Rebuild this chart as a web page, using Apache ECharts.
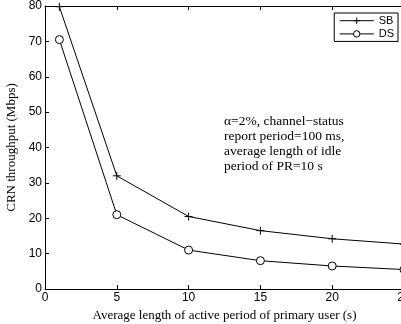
<!DOCTYPE html>
<html><head><meta charset="utf-8">
<script src="https://cdn.jsdelivr.net/npm/echarts@6/dist/echarts.min.js"></script>
<style>html,body{margin:0;padding:0;background:#fff}#c{width:401px;height:324px}</style>
</head><body><div id="c"></div>
<script>
var xValues = [1, 5, 10, 15, 20, 25];
var sbValues = [79.8, 32, 20.5, 16.5, 14.2, 12.7];
var dsValues = [70.5, 21, 11, 8, 6.5, 5.5];
var seriesNames = ['SB', 'DS'];
var annotation = ['\u03b1=2%, channel\u2212status', 'report period=100 ms,', 'average length of idle', 'period of PR=10 s'];

var chart = echarts.init(document.getElementById('c'), null, {renderer: 'canvas'});
var plus = 'path://M0,5 L10,5 M5,0 L5,10';
var circ = 'path://M10,5 A5,5 0 1 1 0,5 A5,5 0 1 1 10,5 Z';
var lab = {color: '#000', fontFamily: 'Liberation Sans, Arial, sans-serif', fontSize: 12};
var tick = {show: true, inside: true, length: 4, lineStyle: {color: '#000', width: 1}};
var line = {show: true, onZero: false, lineStyle: {color: '#000', width: 1}};
chart.setOption({
  animation: false,
  backgroundColor: '#fff',
  grid: {left: 45, top: 6, right: -3, bottom: 35, containLabel: false, outerBoundsMode: 'none'},
  xAxis: [{
    type: 'value', min: 0, max: 25, interval: 5, position: 'bottom',
    axisLine: line, axisTick: tick, splitLine: {show: false},
    axisLabel: Object.assign({margin: 3}, lab),
    name: 'Average length of active period of primary user (s)',
    nameLocation: 'middle', nameGap: 18,
    nameTextStyle: {color: '#000', fontFamily: 'Liberation Serif, Times New Roman, serif', fontSize: 13}
  }, {
    type: 'value', min: 0, max: 25, interval: 5, position: 'top',
    axisLine: line, axisTick: tick, axisLabel: {show: false}, splitLine: {show: false}
  }],
  yAxis: [{
    type: 'value', min: 0, max: 80, interval: 10,
    axisLine: line, axisTick: tick, splitLine: {show: false},
    axisLabel: Object.assign({margin: 3}, lab),
    name: 'CRN throughput (Mbps)', nameLocation: 'middle', nameGap: 24, nameRotate: 90,
    nameTextStyle: {color: '#000', fontFamily: 'Liberation Serif, Times New Roman, serif', fontSize: 13}
  }],
  legend: {
    orient: 'vertical', right: 3, top: 13,
    backgroundColor: '#fff', borderColor: '#000', borderWidth: 1,
    padding: [2, 4, 2, 5], itemGap: 2, itemWidth: 34, itemHeight: 8,
    textStyle: {color: '#000', fontFamily: 'Liberation Sans, Arial, sans-serif', fontSize: 11},
    itemStyle: {borderWidth: 1},
    lineStyle: {width: 1},
    data: seriesNames
  },
  graphic: [{
    type: 'text', left: 224, top: 114,
    style: {text: annotation.join('\n'), fill: '#000', font: '13.5px "Liberation Serif", "Times New Roman", serif', lineHeight: 15}
  }],
  series: [{
    name: seriesNames[0], type: 'line',
    data: xValues.map(function (x, i) { return [x, sbValues[i]]; }),
    symbol: plus, symbolSize: 8,
    lineStyle: {color: '#000', width: 1},
    itemStyle: {color: 'none', borderColor: '#000', borderWidth: 1}
  }, {
    name: seriesNames[1], type: 'line',
    data: xValues.map(function (x, i) { return [x, dsValues[i]]; }),
    symbol: circ, symbolSize: 8,
    lineStyle: {color: '#000', width: 1},
    itemStyle: {color: '#fff', borderColor: '#000', borderWidth: 1}
  }]
});
</script></body></html>
